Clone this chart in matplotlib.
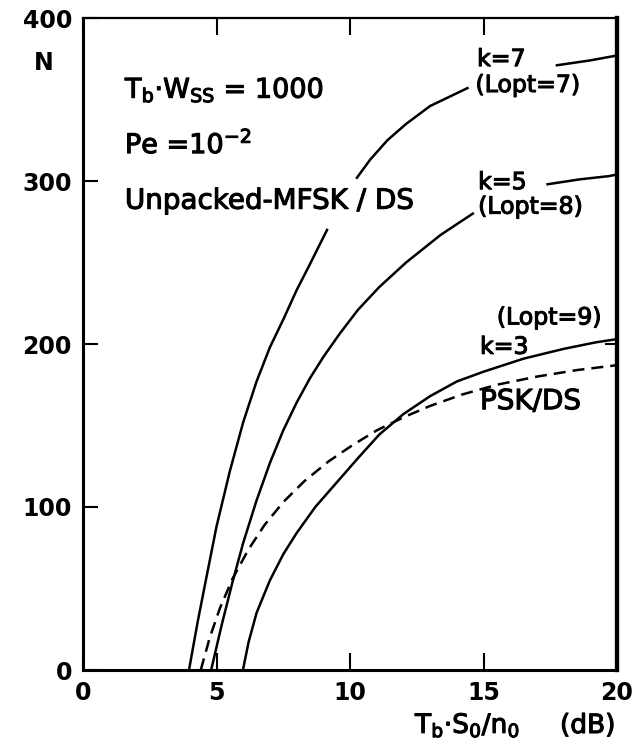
import numpy as np
import matplotlib.pyplot as plt
import matplotlib.patheffects as pe

plt.rcParams["font.family"] = "DejaVu Sans"
plt.rcParams["mathtext.default"] = "regular"

# values (x: Tb*So/no in dB, y: N)
# nan marks where the original line is broken for a label
k7_snr = [3.97, 4.3, 4.6, 5.0, 5.5, 6.0, 6.5, 7.0, 7.5, 8.0, 8.5, 9.14,
          np.nan, 10.26, 10.75, 11.4, 12.1, 13.0, 14.4, np.nan, 17.75, 19.0, 20.0]
k7_n = [0, 30, 55, 88, 122, 152, 177, 198, 215, 233, 249, 270,
        np.nan, 302, 313, 325, 335, 346, 357, np.nan, 371, 374, 377]

k5_snr = [4.8, 5.2, 5.6, 6.0, 6.5, 7.0, 7.5, 8.0, 8.5, 9.0, 9.6, 10.3, 11.1, 12.1,
          13.4, 14.6, np.nan, 17.4, 18.6, 19.7, 20.0]
k5_n = [0, 28, 54, 78, 104, 127, 147, 164, 179, 192, 206, 221, 235, 250,
        267, 280, np.nan, 298, 301, 303, 304]

k3_snr = [5.99, 6.2, 6.5, 7.0, 7.5, 8.0, 8.7, 9.5, 10.3, 11.1, 12.0, 13.0,
          14.0, 15.0, 16.5, 18.0, 19.2, 20.0]
k3_n = [0, 17, 35, 55, 71, 84, 100, 115, 130, 144.5, 157, 168,
        177, 183, 191, 197, 201, 203]

psk_snr = [4.41, 4.75, 5.13, 5.6, 6.2, 6.8, 7.5, 8.3, 9.2, 10.1, 11.0, 12.0,
           13.0, 14.2, 15.5, 17.0, 18.5, 20.0]
psk_n = [0, 20, 38, 56, 74, 89, 103, 116, 128, 138, 147, 155,
         162, 169, 175, 180, 184, 187]

x_ticks = [0, 5, 10, 15, 20]
y_ticks = [0, 100, 200, 300, 400]

fig = plt.figure(figsize=(6.34, 7.47), dpi=100)
ax = fig.add_axes([83 / 634, 1 - 670 / 747, 534 / 634, 652 / 747])

lw = 1.8
ax.plot(k7_snr, k7_n, color="black", lw=lw)
ax.plot(k5_snr, k5_n, color="black", lw=lw)
ax.plot(k3_snr, k3_n, color="black", lw=lw)
ax.plot(psk_snr, psk_n, color="black", lw=lw, linestyle=(0, (4.8, 2.8)))

ax.set_xlim(0, 20)
ax.set_ylim(0, 400)
ax.set_xticks(x_ticks)
ax.set_yticks(y_ticks)
ax.set_xticklabels([str(v) for v in x_ticks], fontsize=17, fontweight="bold")
ax.set_yticklabels([str(v) for v in y_ticks], fontsize=17, fontweight="bold")
ax.tick_params(axis="x", direction="in", length=12, width=1.5, top=True, pad=8)
ax.tick_params(axis="y", direction="in", length=11, width=1.5, pad=8)

sec = ax.secondary_yaxis("right")
sec.set_yticks([200])
sec.tick_params(direction="in", length=9, width=1.5, labelright=False)

ax.spines["left"].set_linewidth(2.2)
ax.spines["bottom"].set_linewidth(2.2)
ax.spines["top"].set_linewidth(1.6)
ax.spines["right"].set_linewidth(3)
sec.spines["right"].set_linewidth(3)

# slightly heavier glyphs, like the original lettering
heavy = [pe.withStroke(linewidth=0.8, foreground="black")]

ax.text(1.57, 351, r"T$_b$·W$_{SS}$ = 1000", fontsize=19.5, va="baseline", path_effects=heavy)
ax.text(1.57, 317, r"Pe =10$^{-2}$", fontsize=19.5, va="baseline", path_effects=heavy)
ax.text(1.57, 283, "Unpacked-MFSK / DS", fontsize=20, va="baseline", path_effects=heavy)

ax.text(14.76, 370.5, "k=7", fontsize=17, va="baseline", path_effects=heavy)
ax.text(14.7, 354.6, "(Lopt=7)", fontsize=17, va="baseline", path_effects=heavy)
ax.text(14.8, 295, "k=5", fontsize=17, va="baseline", path_effects=heavy)
ax.text(14.8, 280, "(Lopt=8)", fontsize=17, va="baseline", path_effects=heavy)
ax.text(15.5, 212, "(Lopt=9)", fontsize=17, va="baseline", path_effects=heavy)
ax.text(14.87, 194, "k=3", fontsize=17, va="baseline", path_effects=heavy)
ax.text(14.87, 160, "PSK/DS", fontsize=20, va="baseline", path_effects=heavy)

fig.text(44 / 634, 1 - 63 / 747, "N", fontsize=17, fontweight="bold",
         ha="center", va="center")
fig.text(415 / 634, 1 - 733 / 747, r"T$_b$·S$_0$/n$_0$", fontsize=19, va="baseline",
         path_effects=heavy)
fig.text(560 / 634, 1 - 733 / 747, "(dB)", fontsize=19, va="baseline", path_effects=heavy)

fig.savefig("out.png", dpi=100)
